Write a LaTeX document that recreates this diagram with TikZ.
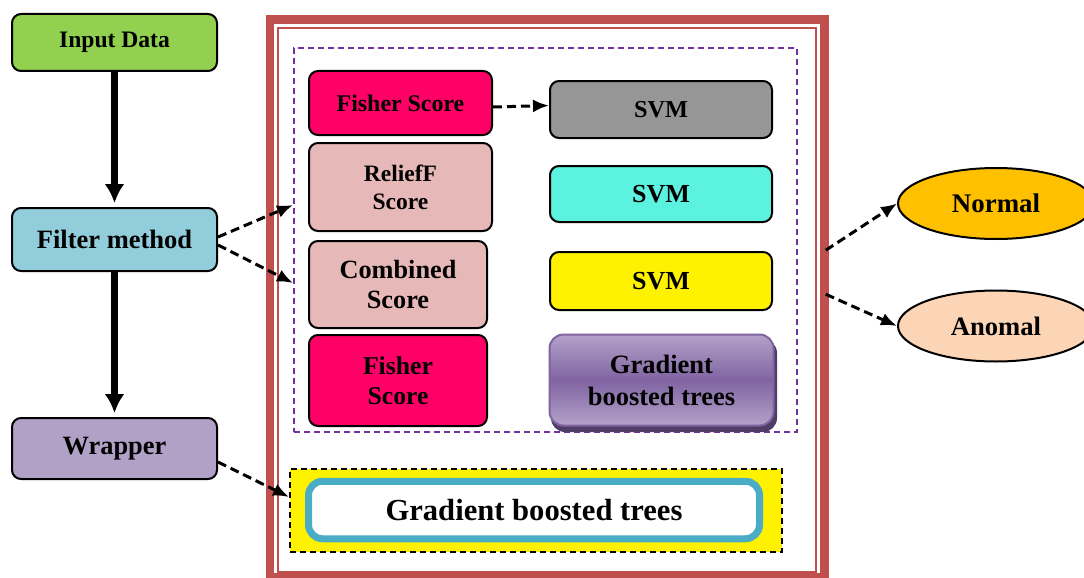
\documentclass[tikz,border=0pt]{standalone}
\usepackage{fontspec}
\setmainfont{Liberation Serif}
\usetikzlibrary{arrows.meta,shapes.geometric}
\definecolor{inputgreen}{HTML}{92D050}
\definecolor{filterblue}{HTML}{92CDDC}
\definecolor{wrapperlilac}{HTML}{B2A1C7}
\definecolor{fisherpink}{HTML}{FF0066}
\definecolor{scorerose}{HTML}{E6B9B8}
\definecolor{svmgray}{HTML}{969696}
\definecolor{svmcyan}{HTML}{5CF2E0}
\definecolor{framered}{HTML}{C0504D}
\definecolor{dashviolet}{HTML}{7030A0}
\definecolor{gbtteal}{HTML}{4BACC6}
\definecolor{gbtlight}{HTML}{B3A2C8}
\definecolor{gbtmid}{HTML}{8064A2}
\definecolor{gbtdark}{HTML}{4F3D68}
\definecolor{normalgold}{HTML}{FFC000}
\definecolor{anomalpeach}{HTML}{FBD5B5}
\newcommand\bfs[2]{\bfseries\fontsize{#1}{#2}\selectfont}
\begin{document}
\begin{tikzpicture}[x=1pt,y=-1pt,
  blk/.style={draw,line width=2pt,rounded corners=9pt,align=center,inner sep=0pt},
  ell/.style={ellipse,draw,line width=2pt,inner sep=0pt,minimum width=196pt,minimum height=71pt},
  longdash/.style={dash pattern=on 6pt off 4pt},
  thickarr/.style={line width=7pt,shorten >=4pt,-{Latex[length=19pt,width=20pt]}},
  dasharr/.style={line width=3pt,dash pattern=on 9pt off 5pt,-{Latex[length=16pt,width=13pt]}}]
\useasboundingbox (0,0) rectangle (1084,578);

% left column
\node[blk,fill=inputgreen,minimum width=205pt,minimum height=57pt,font=\bfs{23.6}{28}] (input) at (114.5,42.5) {Input Data};
\node[blk,fill=filterblue,minimum width=205pt,minimum height=63pt,font=\bfs{26.5}{30}] (filter) at (114.5,239.5) {Filter method};
\node[blk,fill=wrapperlilac,minimum width=205pt,minimum height=61pt,font=\bfs{26.4}{30}] (wrapper) at (114.5,448.5) {Wrapper};
\draw[thickarr] (input) -- (filter);
\draw[thickarr] (filter) -- (wrapper);

% double red frame
\node[draw=framered,line width=8.5pt,minimum width=554.5pt,minimum height=557.5pt,inner sep=0pt] (frame) at (547.25,298.25) {};
\node[draw=framered,line width=2pt,minimum width=538pt,minimum height=543.5pt,inner sep=0pt] (inner) at (547,299.75) {};

% filter scores and classifiers
\node[draw=dashviolet,longdash,line width=2pt,minimum width=503pt,minimum height=384pt,inner sep=0pt] (filters) at (545.5,240) {};
\node[blk,fill=fisherpink,minimum width=183pt,minimum height=64pt,font=\bfs{23.9}{28}] (fisherA) at (400.5,103) {Fisher Score};
\node[blk,fill=scorerose,minimum width=183pt,minimum height=88pt,font=\bfs{23.5}{28}] (relief) at (400.5,187) {ReliefF\\Score};
\node[blk,fill=scorerose,minimum width=178pt,minimum height=87pt,font=\bfs{26.3}{30}] (combined) at (398,284.5) {Combined\\Score};
\node[blk,fill=fisherpink,minimum width=178pt,minimum height=91pt,font=\bfs{25.7}{30}] (fisherB) at (398,380.5) {Fisher\\Score};
\node[blk,fill=svmgray,minimum width=222pt,minimum height=57pt,font=\bfs{24.3}{28}] (svmA) at (661,109.5) {SVM};
\node[blk,fill=svmcyan,minimum width=222pt,minimum height=56pt,font=\bfs{26}{30}] (svmB) at (661,194) {SVM};
\node[blk,fill=yellow,minimum width=222pt,minimum height=58pt,font=\bfs{26}{30}] (svmC) at (661,281) {SVM};
\fill[gbtdark,rounded corners=14pt] (551,339) rectangle (777,432);
\node[blk,draw=gbtmid,rounded corners=14pt,top color=gbtlight,bottom color=gbtlight,middle color=gbtmid,
  minimum width=224pt,minimum height=91pt,font=\bfs{26.5}{32}] (gbtA) at (661.5,380) {Gradient\\boosted trees};
\draw[dasharr] ([yshift=-4pt]fisherA.east) -- ([yshift=4pt]svmA.west);

% wrapper model
\node[draw,fill=yellow,longdash,line width=2pt,minimum width=492pt,minimum height=83pt,inner sep=0pt] (wrapbox) at (536,510.5) {};
\node[draw=gbtteal,fill=white,line width=7pt,rounded corners=14pt,minimum width=451pt,minimum height=57.5pt,
  inner sep=0pt,font=\bfs{30.6}{34}] (gbtB) at (534,510) {Gradient boosted trees};

\draw[dasharr] ([yshift=2.5pt]filter.east) -- ([yshift=35pt]filters.west);
\draw[dasharr] ([yshift=-5.5pt]filter.east) -- ([yshift=-43pt]filters.west);
\draw[dasharr] ([yshift=-13.5pt]wrapper.east) -- ([yshift=13.5pt]wrapbox.west);

% outputs
\node[ell,fill=normalgold,font=\bfs{26.9}{30}] (normal) at (996,203.5) {Normal};
\node[ell,fill=anomalpeach,font=\bfs{26.6}{30}] (anomal) at (996,326) {Anomal};
\draw[dasharr] ([xshift=-3pt,yshift=48pt]frame.east) -- (normal.west);
\draw[dasharr] ([xshift=-3pt,yshift=4pt]frame.east) -- (anomal.west);
\end{tikzpicture}
\end{document}
